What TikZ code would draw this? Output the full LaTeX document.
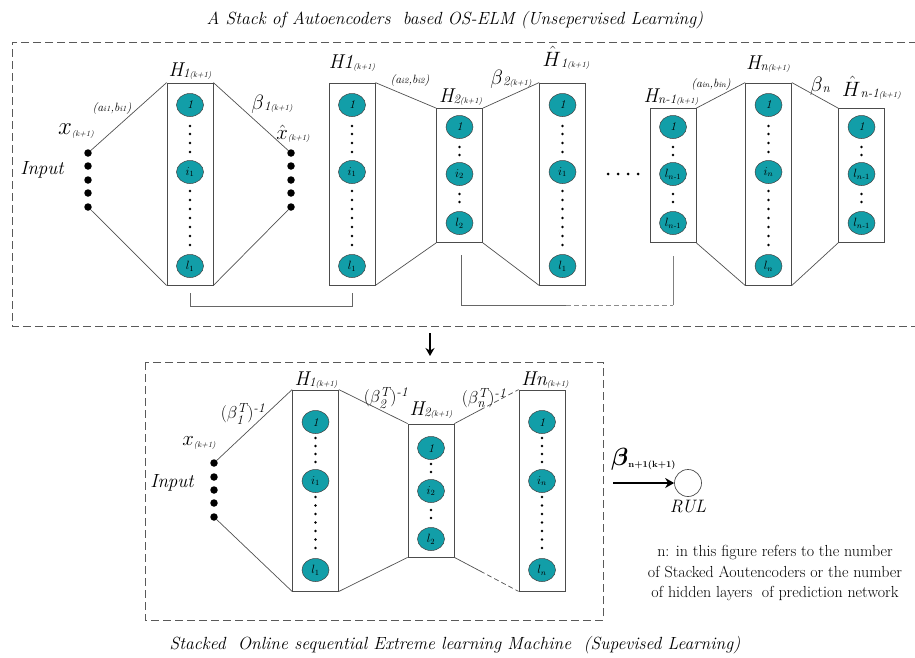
\documentclass[tikz,border=0pt]{standalone}
\usepackage{amsmath}
\usetikzlibrary{shapes.geometric,arrows.meta,calc}
\definecolor{neuronfill}{RGB}{18,158,168}
\definecolor{wirec}{RGB}{80,80,80}
\newcommand{\fs}[1]{\fontsize{#1}{#1}\selectfont}
% layer label: big base, medium index, small time index
\newcommand{\Hlab}[3]{{\fs{20}\itshape #1}\raisebox{-1.5pt}{\fs{13}\itshape #2}\raisebox{-1.5pt}{\fs{8}\itshape #3}}
% inverse transposed output weights, (beta_i^T)^-1
\newcommand{\binv}[1]{{\fs{19}$(\beta_{\textit{#1}}^{\textit{T}})^{\textit{-1}}$}}
\newcommand{\dotcol}[3]{\foreach \yy [count=\k] in {#2} \node[ndot] (#3-\k) at (#1,\yy) {};}
\begin{document}
\begin{tikzpicture}[x=1pt,y=-1pt,
  layerbox/.style={draw=black!70, line width=0.8pt, minimum width=46pt, inner sep=0pt},
  neuron/.style={ellipse, draw=black!75, line width=0.5pt, fill=neuronfill, minimum width=27pt, minimum height=23pt, inner sep=0pt, font=\fs{12}\itshape},
  ndot/.style={circle, fill=black, minimum size=2.8pt, inner sep=0pt},
  idot/.style={circle, fill=black, minimum size=7.5pt, inner sep=0pt},
  wire/.style={draw=wirec, line width=0.7pt},
  groupframe/.style={draw=black!65, line width=0.8pt, dash pattern=on 8pt off 4pt},
  lab/.style={inner sep=0pt, font=\itshape},
]
\useasboundingbox (0,0) rectangle (915,657);

% ---------------- stacked autoencoders (top group) ----------------
\node[lab, font=\fs{17.6}\itshape] (title1) at (455,20) {A Stack of Autoencoders\ \ based OS-ELM (Unsepervised Learning)};
\draw[groupframe] (917,42) -- (12,42) -- (12,326) -- (917,326);

% input and reconstructed input
\foreach \yy [count=\k] in {153,166,180,193,207} {
  \node[idot] (in\k) at (88,\yy) {};
  \node[idot] (out\k) at (291,\yy) {};
}
\node[lab, font=\fs{19}\itshape] (inlab1) at (42,170) {Input};
\node[lab] (xlab1) at (76,131) {{\fs{23}$x$}\raisebox{-1.5pt}{\fs{8}\itshape(k+1)}};
\node[lab] (xhat1) at (293,134) {{\fs{22}$\hat{x}$}\raisebox{-1.5pt}{\fs{8}\itshape(k+1)}};
\node[lab] (ab1) at (112,108) {\fs{12}(a{\fs{8}i1},b{\fs{8}i1})};
\node[lab] (beta1) at (272,104) {\Hlab{$\beta$}{1}{(k+1)}};

% tall layers
\foreach \nm/\xx/\la/\lb/\lc in {A1/190/1/$i_1$/$l_1$, A2/352/1/$i_1$/$l_1$, A4/562.5/1/$i_1$/$l_1$, A6/768.5/1/$i_n$/$l_n$} {
  \node[layerbox, minimum height=202pt] (\nm) at (\xx,184) {};
  \node[neuron] (\nm-a) at (\xx,105) {\la};
  \node[neuron] (\nm-b) at (\xx,172) {\lb};
  \node[neuron] (\nm-c) at (\xx,266) {\lc};
  \dotcol{\xx}{126,134,143,152}{\nm-u}
  \dotcol{\xx}{191,200,209,218,227,236,245}{\nm-v}
}
% short layers
\foreach \nm/\xx/\la/\lb/\lc in {A3/459.5/1/$i_2$/$l_2$, A5/673/1/$l_{n\text{-}1}$/$l_{n\text{-}1}$, A7/861.5/1/$l_{n\text{-}1}$/$l_{n\text{-}1}$} {
  \node[layerbox, minimum height=134pt] (\nm) at (\xx,175.5) {};
  \node[neuron] (\nm-a) at (\xx,127) {\la};
  \node[neuron] (\nm-b) at (\xx,174) {\lb};
  \node[neuron] (\nm-c) at (\xx,223) {\lc};
  \dotcol{\xx}{147,155}{\nm-u}
  \dotcol{\xx}{194,202}{\nm-v}
}

% layer labels
\node[lab] (hA1) at (190,71) {\Hlab{H}{1}{(k+1)}};
\node[lab] (hA2) at (352,63) {\Hlab{H1}{}{(k+1)}};
\node[lab, anchor=west] (hA3) at (439,97) {\Hlab{H}{2}{(k+1)}};
\node[lab] (hA4) at (566,58) {\Hlab{$\hat{H}$}{1}{(k+1)}};
\node[lab] (hA5) at (671,97) {\Hlab{H}{n-1}{(k+1)}};
\node[lab] (hA6) at (768,64) {\Hlab{H}{n}{(k+1)}};
\node[lab, anchor=west] (hA7) at (842,88) {\Hlab{$\hat{H}$}{n-1}{(k+1)}};
\node[lab] (ab2) at (410,80) {\fs{12}(a{\fs{8}i2},b{\fs{8}i2})};
\node[lab] (beta2) at (511,79) {\Hlab{$\beta$}{2}{(k+1)}};
\node[lab] (abn) at (711,84) {\fs{12}(a{\fs{8}in},b{\fs{8}in})};
\node[lab] (betan) at (820,86) {\Hlab{$\beta$}{n}{}};

% connectors of the top group
\draw[wire] (in1) -- (A1.north west) (in5) -- (A1.south west);
\draw[wire] (A1.north east) -- (out1) (A1.south east) -- (out5);
\draw[wire] (A2.north east) -- (A3.north west) (A2.south east) -- (A3.south west);
\draw[wire] (A3.north east) -- (A4.north west) (A3.south east) -- (A4.south west);
\draw[wire] (A5.north east) -- (A6.north west) (A5.south east) -- (A6.south west);
\draw[wire] (A6.north east) -- (A7.north west) (A6.south east) -- (A7.south west);

% brackets tying encoder outputs to the next autoencoder
\coordinate (k1a) at (190,293);
\coordinate (k1b) at (352,293);
\draw[wire, draw=black!60] (k1a) -- (k1a |- 0,306) -- (k1b |- 0,306) -- (k1b);
\coordinate (k2a) at (461,255);
\coordinate (k2m) at (566,305);
\coordinate (k2b) at (673,256);
\draw[wire, draw=black!60] (k2a) -- (k2a |- k2m) -- (k2m);
\draw[wire, draw=black!45, dash pattern=on 5pt off 3pt] (k2m) -- (k2b |- k2m);
\draw[wire, draw=black!50] (k2b |- k2m) -- (k2b);

% ellipsis between the autoencoders
\foreach \xx [count=\k] in {608,618,628,638} \node[ndot, minimum size=3pt] (gap-\k) at (\xx,174) {};

% ---------------- arrow to the supervised network ----------------
\coordinate (arrS) at (430,333);
\coordinate (arrE) at (430,356);
\draw[line width=1.8pt, -{Stealth[length=8pt, width=9pt]}] (arrS) -- (arrE);

% ---------------- stacked OS-ELM (bottom group) ----------------
\draw[groupframe] (145,362) rectangle (603,620);
\foreach \yy [count=\k] in {463,477,490,503,517} \node[idot] (bin\k) at (214,\yy) {};
\node[lab, font=\fs{19}\itshape] (inlab2) at (172,483) {Input};
\node[lab] (xlab2) at (199,443) {{\fs{20}$x$}\raisebox{-1.5pt}{\fs{8}\itshape(k+1)}};

\foreach \nm/\xx/\lb/\lc in {B1/315.5/$i_1$/$l_1$, B3/542/$i_n$/$l_n$} {
  \node[layerbox, minimum height=201pt] (\nm) at (\xx,490.5) {};
  \node[neuron] (\nm-a) at (\xx,422) {1};
  \node[neuron] (\nm-b) at (\xx,481) {\lb};
  \node[neuron] (\nm-c) at (\xx,570) {\lc};
  \dotcol{\xx}{438,446,454,462}{\nm-u}
  \dotcol{\xx}{497,505.5,514,522.5,531,539.5,548}{\nm-v}
}
\node[layerbox, minimum height=133pt] (B2) at (431,490.5) {};
\node[neuron] (B2-a) at (431,448) {1};
\node[neuron] (B2-b) at (431,491) {$i_2$};
\node[neuron] (B2-c) at (431,539) {$l_2$};
\dotcol{431}{464,472}{B2-u}
\dotcol{431}{510,518}{B2-v}

\node[lab] (hB1) at (316,380) {\Hlab{H}{1}{(k+1)}};
\node[lab] (hB2) at (431,410) {\Hlab{H}{2}{(k+1)}};
\node[lab] (hB3) at (545,380) {\Hlab{Hn}{}{(k+1)}};
\node[lab] (bt1) at (243,414) {\binv{1}};
\node[lab] (bt2) at (386,398) {\binv{2}};
\node[lab] (btn) at (484,398) {\binv{n}};

\draw[wire] (bin1) -- (B1.north west) (bin5) -- (B1.south west);
\draw[wire] (B1.north east) -- (B2.north west) (B1.south east) -- (B2.south west);
\coordinate (mtop) at ($(B2.north east)!0.4!(B3.north west)$);
\coordinate (mbot) at ($(B2.south east)!0.4!(B3.south west)$);
\draw[wire] (B2.north east) -- (mtop) (B2.south east) -- (mbot);
\draw[wire, dash pattern=on 5pt off 3pt] (mtop) -- (B3.north west) (mbot) -- (B3.south west);

% output neuron
\node[circle, draw=black!70, line width=0.7pt, minimum size=27pt, inner sep=0pt] (rul) at (688,483) {};
\coordinate (outS) at (613,483);
\draw[line width=2.2pt, -{Stealth[length=9pt, width=10pt]}] (outS) -- (rul.west);
\node[lab] (rullab) at (688,507) {\fs{18}\itshape RUL};
\node[lab, anchor=west] (betaout) at (611,459) {{\fs{26}$\boldsymbol{\beta}$}\raisebox{-2pt}{\fs{9}\upshape\bfseries n+1(k+1)}};

\node[align=center, inner sep=0pt, font=\fs{16}\linespread{1.3}\selectfont] (note) at (775,573) {n: in this figure refers to the number\\ of Stacked Aoutencoders or the number\\ of hidden layers\ \ of prediction network};

\node[lab, font=\fs{17.6}\itshape] (title2) at (455,645) {Stacked\ \ Online sequential Extreme learning Machine\ \ (Supevised Learning)};
\end{tikzpicture}
\end{document}
